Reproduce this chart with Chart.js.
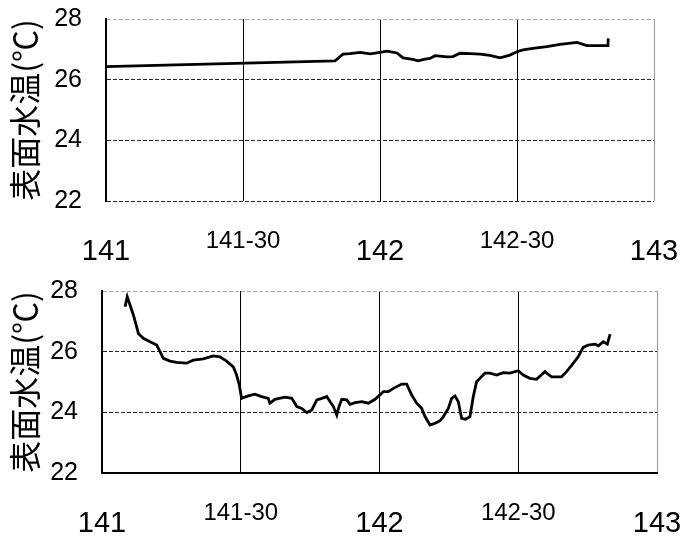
<!DOCTYPE html>
<html>
<head>
<meta charset="utf-8">
<script src="https://cdn.jsdelivr.net/npm/chart.js@4.4.0/dist/chart.umd.min.js"></script>
<style>
  html, body { margin: 0; padding: 0; background: #fff; }
  .panel { position: absolute; left: 0; width: 700px; height: 270px; }
</style>
</head>
<body>
<div class="panel" style="top:0"><canvas id="top-chart" width="700" height="270"></canvas></div>
<div class="panel" style="top:270px"><canvas id="bottom-chart" width="700" height="270"></canvas></div>
<script>
// axis ticks
const xTicks = [141, 141.5, 142, 142.5, 143]
const xTickLabels = ['141', '141-30', '142', '142-30', '143']
const yTicks = [22, 24, 26, 28]
const yTitle = '表面水温(℃)'

// upper panel (longitude, SST)
const topLon = [141.000, 141.836, 141.865, 141.891, 141.927, 141.964, 142.000, 142.026, 142.062, 142.084,
  142.120, 142.139, 142.164, 142.182, 142.201, 142.245, 142.266, 142.292, 142.328, 142.365,
  142.401, 142.438, 142.474, 142.500, 142.522, 142.558, 142.609, 142.657, 142.719, 142.755,
  142.832, 142.833]
const topTemp = [26.43, 26.62, 26.84, 26.86, 26.90, 26.85, 26.90, 26.94, 26.88, 26.72,
  26.67, 26.62, 26.68, 26.70, 26.79, 26.75, 26.76, 26.87, 26.86, 26.84,
  26.80, 26.72, 26.81, 26.92, 26.98, 27.03, 27.09, 27.16, 27.23, 27.12,
  27.12, 27.36]

// lower panel
const bottomLon = [141.083, 141.091, 141.101, 141.113, 141.123, 141.131, 141.149, 141.173, 141.197, 141.209,
  141.221, 141.245, 141.269, 141.305, 141.329, 141.365, 141.401, 141.425, 141.449, 141.473,
  141.485, 141.495, 141.503, 141.527, 141.551, 141.575, 141.599, 141.605, 141.623, 141.659,
  141.684, 141.702, 141.720, 141.738, 141.756, 141.774, 141.792, 141.810, 141.822, 141.834,
  141.846, 141.854, 141.864, 141.882, 141.894, 141.912, 141.936, 141.960, 141.984, 142.014,
  142.032, 142.050, 142.080, 142.098, 142.116, 142.134, 142.152, 142.164, 142.182, 142.200,
  142.218, 142.230, 142.248, 142.260, 142.272, 142.284, 142.296, 142.310, 142.326, 142.338,
  142.350, 142.362, 142.380, 142.398, 142.422, 142.446, 142.470, 142.500, 142.518, 142.542,
  142.566, 142.596, 142.620, 142.656, 142.674, 142.693, 142.716, 142.734, 142.752, 142.777,
  142.789, 142.806, 142.821, 142.831]
const bottomTemp = [27.48, 27.81, 27.54, 27.21, 26.88, 26.60, 26.44, 26.33, 26.22, 26.00,
  25.78, 25.69, 25.65, 25.62, 25.72, 25.76, 25.86, 25.83, 25.69, 25.50,
  25.23, 24.90, 24.46, 24.54, 24.60, 24.52, 24.46, 24.30, 24.43, 24.50,
  24.46, 24.19, 24.13, 23.99, 24.08, 24.41, 24.46, 24.52, 24.35, 24.19,
  23.91, 24.19, 24.43, 24.41, 24.26, 24.32, 24.35, 24.30, 24.43, 24.68,
  24.68, 24.79, 24.93, 24.93, 24.57, 24.30, 24.13, 23.86, 23.58, 23.64,
  23.72, 23.86, 24.13, 24.46, 24.54, 24.35, 23.80, 23.77, 23.86, 24.52,
  25.01, 25.12, 25.29, 25.29, 25.23, 25.31, 25.29, 25.37, 25.23, 25.12,
  25.09, 25.34, 25.17, 25.17, 25.34, 25.56, 25.83, 26.14, 26.22, 26.25,
  26.19, 26.33, 26.25, 26.58]

const makeChart = (id, lon, temp, box) => {
  const points = lon.map((v, i) => ({ x: v, y: temp[i] }))
  const ctx = document.getElementById(id).getContext('2d')
  return new Chart(ctx, {
    type: 'line',
    data: {
      datasets: [{
        data: points,
        borderColor: '#000',
        borderWidth: 2.8,
        pointRadius: 0,
        tension: 0,
        fill: false,
      }],
    },
    options: {
      responsive: false,
      animation: false,
      layout: { padding: { top: box.top, right: box.right, left: 0, bottom: 0 } },
      plugins: { legend: { display: false }, tooltip: { enabled: false } },
      scales: {
        x: {
          type: 'linear',
          min: 141,
          max: 143,
          afterBuildTicks: (scale) => { scale.ticks = xTicks.map(v => ({ value: v })) },
          afterFit: (scale) => { scale.height = box.xHeight },
          ticks: {
            autoSkip: false,
            maxRotation: 0,
            padding: 6,
            color: '#000',
            callback: (value, index) => xTickLabels[index],
            // whole degrees sit lower and bigger than the "-30" labels
            font: (c) => {
              const v = c.tick ? c.tick.value : 141
              return Number.isInteger(v)
                ? { family: "'Liberation Sans', Arial, sans-serif", size: 29, lineHeight: '90px' }
                : { family: "'Liberation Sans', Arial, sans-serif", size: 24, lineHeight: '68px' }
            },
          },
          grid: {
            drawTicks: false,
            lineWidth: 1,
            color: (c) => (c.index === xTicks.length - 1 ? '#999' : '#000'),
          },
          border: { display: box.solidBottom, color: '#000', width: 2 },
        },
        y: {
          min: 22,
          max: 28,
          afterBuildTicks: (scale) => { scale.ticks = yTicks.map(v => ({ value: v })) },
          // keep the plot box where the original has it
          afterFit: (scale) => { scale.width = box.left; scale.paddingTop = 0; scale.paddingBottom = 0 },
          ticks: {
            padding: 24,
            color: '#000',
            font: { family: "'Liberation Sans', Arial, sans-serif", size: 25 },
          },
          grid: {
            drawTicks: false,
            lineWidth: 1,
            color: (c) => (c.tick && c.tick.value === 28 ? '#aaa' : '#222'),
          },
          border: { display: true, color: '#000', width: 2, dash: [4, 2] },
          title: {
            display: true,
            text: yTitle,
            color: '#000',
            font: { family: "'Noto Sans CJK JP', sans-serif", size: 32 },
            padding: { top: 6, bottom: 0 },
          },
        },
      },
    },
  })
}

makeChart('top-chart', topLon, topTemp, { left: 106, right: 46, top: 19, xHeight: 69, solidBottom: false })
makeChart('bottom-chart', bottomLon, bottomTemp, { left: 102, right: 43, top: 21, xHeight: 67, solidBottom: true })
</script>
</body>
</html>
